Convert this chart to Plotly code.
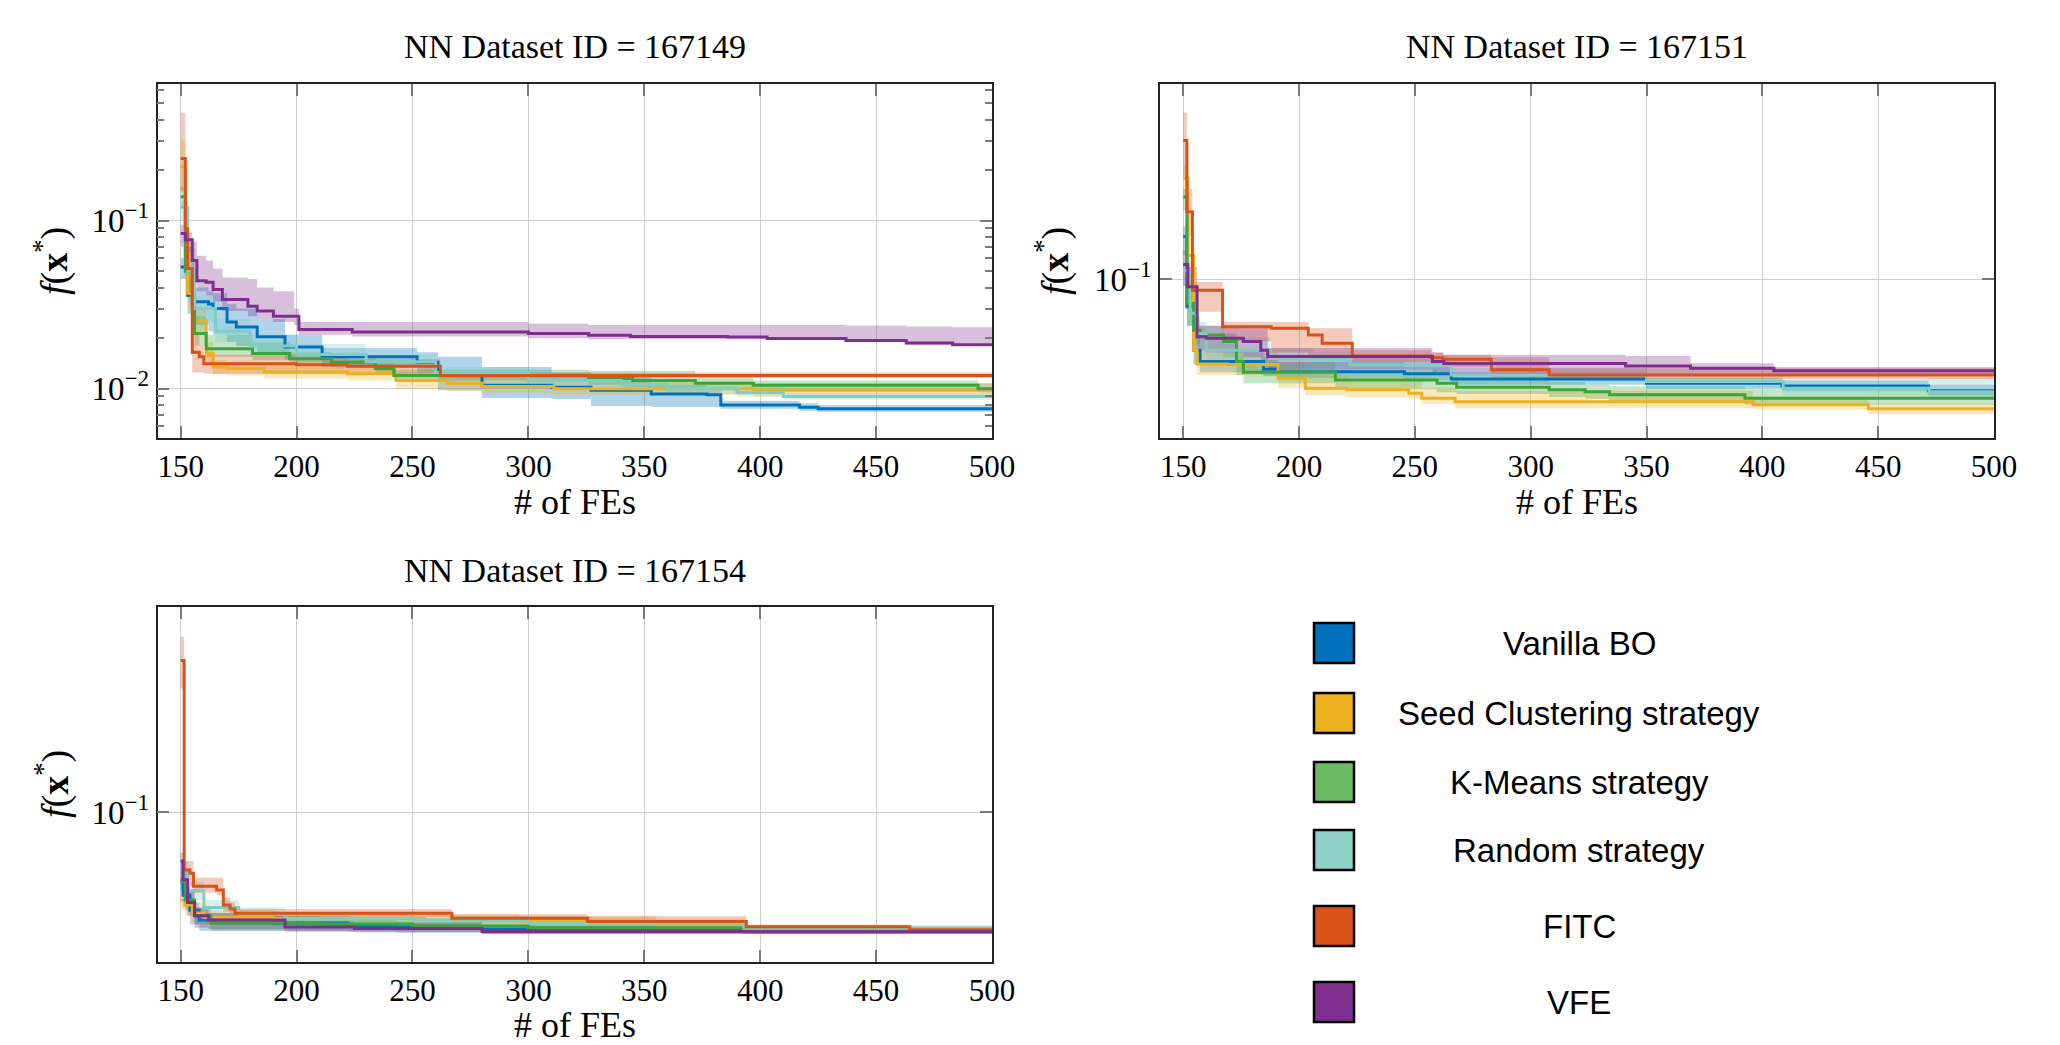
import plotly.graph_objects as go

# ---------------- categories / styles ----------------
methods = ["Vanilla BO", "Seed Clustering strategy", "K-Means strategy",
           "Random strategy", "FITC", "VFE"]
line_colors = ["#0072BD", "#EDB120", "#3BA53B", "#7FCDC4", "#D95319", "#7E2F8E"]
legend_colors = ["#0072BD", "#EDB120", "#6ABA62", "#8ED1C6", "#D95319", "#7E2F8E"]
titles = ["NN Dataset ID = 167149", "NN Dataset ID = 167151", "NN Dataset ID = 167154"]
x_ticks = [150, 200, 250, 300, 350, 400, 450, 500]

# ---------------- dataset 167149 ----------------
a_van_x = [150, 153, 155, 162, 164, 170, 174, 183, 195, 211, 252, 261, 280, 310, 327, 353, 377, 383, 417, 425, 500]
a_van_m = [0.053, 0.036, 0.033, 0.032, 0.030, 0.025, 0.0233, 0.0204, 0.0177, 0.0155, 0.0144, 0.0123, 0.0105, 0.0102, 0.0098, 0.0093, 0.0092, 0.0080, 0.00775, 0.0076, 0.0076]
a_van_h = [0.060, 0.045, 0.040, 0.038, 0.037, 0.032, 0.030, 0.026, 0.021, 0.0175, 0.0165, 0.0155, 0.0135, 0.0125, 0.0118, 0.0105, 0.0102, 0.0085, 0.0082, 0.0080, 0.0080]
a_van_l = [0.045, 0.028, 0.024, 0.022, 0.021, 0.019, 0.018, 0.016, 0.015, 0.0135, 0.0125, 0.0098, 0.0088, 0.0087, 0.0079, 0.0078, 0.0078, 0.0076, 0.0074, 0.0073, 0.0073]

a_sed_x = [150, 152, 153, 156, 161, 164, 170, 186, 222, 243, 265, 280, 311, 397, 500]
a_sed_m = [0.21, 0.06, 0.037, 0.0255, 0.0162, 0.0135, 0.0132, 0.0126, 0.0123, 0.0112, 0.0108, 0.0103, 0.0100, 0.0098, 0.0098]
a_sed_h = [0.30, 0.08, 0.05, 0.030, 0.019, 0.0148, 0.0145, 0.0138, 0.0134, 0.0125, 0.0120, 0.0115, 0.0110, 0.0108, 0.0108]
a_sed_l = [0.15, 0.045, 0.03, 0.021, 0.014, 0.0122, 0.0120, 0.0115, 0.0112, 0.0100, 0.0097, 0.0094, 0.0092, 0.0090, 0.0090]

a_km_x = [150, 152, 156, 161, 181, 197, 215, 234, 242, 326, 345, 372, 397, 494, 500]
a_km_m = [0.139, 0.05, 0.0213, 0.0173, 0.0162, 0.0151, 0.0144, 0.0132, 0.0120, 0.0115, 0.0112, 0.0108, 0.0105, 0.0100, 0.0100]
a_km_h = [0.16, 0.07, 0.027, 0.021, 0.019, 0.0165, 0.0158, 0.0142, 0.0130, 0.0128, 0.0128, 0.0118, 0.0112, 0.0108, 0.0108]
a_km_l = [0.12, 0.035, 0.018, 0.0155, 0.0148, 0.0140, 0.0134, 0.0122, 0.0112, 0.0106, 0.0102, 0.0100, 0.0097, 0.0095, 0.0095]

a_rnd_x = [150, 153, 156, 165, 180, 200, 230, 260, 300, 340, 360, 390, 410, 500]
a_rnd_m = [0.12, 0.05, 0.030, 0.022, 0.018, 0.016, 0.0145, 0.0125, 0.0112, 0.0106, 0.0100, 0.0095, 0.0090, 0.0089]
a_rnd_h = [0.13, 0.06, 0.036, 0.026, 0.021, 0.0185, 0.0160, 0.0135, 0.0120, 0.0114, 0.0108, 0.0102, 0.0095, 0.0093]
a_rnd_l = [0.10, 0.04, 0.025, 0.019, 0.016, 0.0145, 0.0132, 0.0115, 0.0104, 0.0098, 0.0093, 0.0090, 0.0086, 0.0085]

a_fitc_x = [150, 152, 153, 155, 158, 160, 200, 222, 262, 500]
a_fitc_m = [0.235, 0.09, 0.052, 0.0165, 0.0155, 0.0141, 0.0139, 0.0136, 0.0120, 0.0119]
a_fitc_h = [0.44, 0.13, 0.07, 0.021, 0.018, 0.016, 0.0155, 0.015, 0.0125, 0.0122]
a_fitc_l = [0.15, 0.06, 0.035, 0.0125, 0.0125, 0.0123, 0.0123, 0.0122, 0.0116, 0.0116]

a_vfe_x = [150, 152, 155, 157, 161, 164, 168, 179, 183, 190, 199, 201, 224, 300, 326, 344, 386, 403, 437, 463, 483, 500]
a_vfe_m = [0.084, 0.077, 0.058, 0.044, 0.043, 0.039, 0.034, 0.031, 0.029, 0.027, 0.027, 0.0225, 0.0218, 0.0213, 0.0208, 0.0205, 0.0203, 0.0199, 0.0194, 0.0187, 0.0183, 0.0183]
a_vfe_h = [0.095, 0.085, 0.075, 0.062, 0.058, 0.052, 0.046, 0.045, 0.040, 0.038, 0.030, 0.025, 0.025, 0.0245, 0.024, 0.024, 0.024, 0.024, 0.0238, 0.0235, 0.0232, 0.0232]
a_vfe_l = [0.070, 0.065, 0.050, 0.038, 0.036, 0.033, 0.029, 0.027, 0.026, 0.025, 0.024, 0.021, 0.0205, 0.020, 0.0197, 0.0197, 0.0197, 0.0195, 0.019, 0.0183, 0.018, 0.018]

# ---------------- dataset 167151 ----------------
b_van_x = [150, 151.6, 154.5, 157.3, 184.7, 191, 245.5, 265.7, 350, 408.5, 471.7, 500]
b_van_m = [0.139, 0.081, 0.058, 0.0532, 0.0501, 0.0492, 0.0484, 0.0465, 0.045, 0.0441, 0.0425, 0.0425]
b_van_h = [0.15, 0.09, 0.068, 0.058, 0.055, 0.053, 0.051, 0.049, 0.047, 0.046, 0.0445, 0.0445]
b_van_l = [0.12, 0.07, 0.052, 0.049, 0.0475, 0.047, 0.046, 0.0445, 0.0432, 0.0425, 0.041, 0.041]

b_sed_x = [150, 152, 154.5, 156, 169, 191, 202.7, 220.7, 247.4, 253, 267.4, 396, 445.8, 500]
b_sed_m = [0.217, 0.12, 0.058, 0.0522, 0.052, 0.0468, 0.0433, 0.0428, 0.0417, 0.0401, 0.0391, 0.0382, 0.037, 0.037]
b_sed_h = [0.24, 0.14, 0.066, 0.058, 0.057, 0.052, 0.048, 0.047, 0.046, 0.0435, 0.0425, 0.040, 0.0385, 0.0385]
b_sed_l = [0.19, 0.10, 0.052, 0.048, 0.048, 0.0435, 0.041, 0.0405, 0.040, 0.0385, 0.0372, 0.0368, 0.0355, 0.0355]

b_km_x = [150, 151.6, 154.5, 157.3, 167.4, 173, 176, 215.7, 259.6, 268, 308, 323.5, 334, 392.5, 500]
b_km_m = [0.188, 0.083, 0.0678, 0.0652, 0.062, 0.0532, 0.049, 0.0462, 0.045, 0.0437, 0.0428, 0.0422, 0.0412, 0.0401, 0.0401]
b_km_h = [0.20, 0.095, 0.075, 0.070, 0.066, 0.058, 0.053, 0.050, 0.048, 0.047, 0.0455, 0.0445, 0.044, 0.043, 0.043]
b_km_l = [0.17, 0.07, 0.060, 0.058, 0.055, 0.048, 0.045, 0.043, 0.042, 0.0415, 0.0405, 0.040, 0.039, 0.0382, 0.0382]

b_rnd_x = [150, 153, 156, 160, 187.6, 206, 222, 265.7, 350, 409, 472, 500]
b_rnd_m = [0.107, 0.077, 0.066, 0.058, 0.0545, 0.054, 0.0518, 0.048, 0.0456, 0.0433, 0.0422, 0.0422]
b_rnd_h = [0.115, 0.085, 0.072, 0.064, 0.059, 0.057, 0.055, 0.0505, 0.048, 0.0465, 0.0468, 0.0468]
b_rnd_l = [0.095, 0.07, 0.058, 0.052, 0.050, 0.0495, 0.048, 0.0455, 0.043, 0.041, 0.040, 0.040]

b_fitc_x = [150, 151.6, 154, 167, 188, 204, 210, 223, 257, 262, 283, 308, 500]
b_fitc_m = [0.29, 0.168, 0.092, 0.0695, 0.0687, 0.0652, 0.0612, 0.0555, 0.0549, 0.0541, 0.0499, 0.048, 0.048]
b_fitc_h = [0.36, 0.20, 0.098, 0.072, 0.072, 0.0687, 0.0687, 0.058, 0.057, 0.056, 0.055, 0.0505, 0.0505]
b_fitc_l = [0.22, 0.14, 0.078, 0.062, 0.057, 0.056, 0.0555, 0.053, 0.052, 0.051, 0.047, 0.0465, 0.0465]

b_vfe_x = [150, 152, 156, 160, 176, 183.5, 186.5, 257.6, 262.5, 341, 369, 405, 500]
b_vfe_m = [0.112, 0.0945, 0.0644, 0.0636, 0.062, 0.058, 0.0553, 0.0532, 0.0524, 0.0514, 0.0505, 0.0496, 0.0496]
b_vfe_h = [0.125, 0.11, 0.070, 0.070, 0.069, 0.069, 0.059, 0.057, 0.056, 0.0555, 0.0525, 0.051, 0.051]
b_vfe_l = [0.095, 0.085, 0.058, 0.057, 0.055, 0.052, 0.050, 0.049, 0.048, 0.048, 0.048, 0.0478, 0.0478]

# ---------------- dataset 167154 ----------------
c_van_x = [150, 151, 154, 158, 190, 222, 243, 280, 393, 500]
c_van_m = [0.055, 0.048, 0.042, 0.0385, 0.0375, 0.0365, 0.0362, 0.0355, 0.0350, 0.0350]
c_van_h = [0.060, 0.052, 0.045, 0.041, 0.040, 0.0385, 0.038, 0.037, 0.036, 0.036]
c_van_l = [0.050, 0.043, 0.037, 0.035, 0.035, 0.0348, 0.0345, 0.034, 0.034, 0.034]

c_sed_x = [150, 152, 155, 160, 190, 255, 296, 355, 393, 500]
c_sed_m = [0.046, 0.044, 0.041, 0.0395, 0.039, 0.0385, 0.0382, 0.0365, 0.0348, 0.0348]
c_sed_h = [0.050, 0.048, 0.045, 0.042, 0.041, 0.0405, 0.040, 0.038, 0.036, 0.036]
c_sed_l = [0.042, 0.040, 0.038, 0.037, 0.0368, 0.0365, 0.036, 0.0352, 0.034, 0.034]

c_km_x = [150, 152, 156, 163, 210, 250, 300, 393, 500]
c_km_m = [0.054, 0.046, 0.040, 0.0375, 0.0372, 0.0365, 0.036, 0.0355, 0.0355]
c_km_h = [0.058, 0.050, 0.043, 0.040, 0.039, 0.038, 0.0375, 0.0365, 0.0365]
c_km_l = [0.050, 0.042, 0.037, 0.035, 0.035, 0.0348, 0.0345, 0.0345, 0.0345]

c_rnd_x = [150, 153, 160, 175, 195, 250, 300, 393, 500]
c_rnd_m = [0.060, 0.050, 0.043, 0.0405, 0.039, 0.0385, 0.0375, 0.0358, 0.0355]
c_rnd_h = [0.065, 0.054, 0.046, 0.043, 0.041, 0.040, 0.039, 0.0368, 0.0365]
c_rnd_l = [0.055, 0.046, 0.040, 0.038, 0.037, 0.0365, 0.036, 0.0348, 0.0345]

c_fitc_x = [150, 151.5, 154, 155.5, 165.5, 168.4, 171.3, 173.4, 267, 325.5, 394, 464.5, 500]
c_fitc_m = [0.385, 0.060, 0.0583, 0.052, 0.0503, 0.044, 0.0425, 0.0409, 0.0391, 0.038, 0.0363, 0.0353, 0.0353]
c_fitc_h = [0.474, 0.065, 0.065, 0.056, 0.056, 0.047, 0.045, 0.0425, 0.0405, 0.0398, 0.037, 0.036, 0.036]
c_fitc_l = [0.30, 0.055, 0.052, 0.049, 0.048, 0.0415, 0.041, 0.0395, 0.0378, 0.037, 0.0355, 0.0345, 0.0345]

c_vfe_x = [150, 151, 153, 156, 162, 195, 225, 280, 393, 500]
c_vfe_m = [0.065, 0.055, 0.045, 0.040, 0.0385, 0.0362, 0.0357, 0.0348, 0.0347, 0.0347]
c_vfe_h = [0.070, 0.060, 0.050, 0.043, 0.041, 0.038, 0.0375, 0.0365, 0.0355, 0.0355]
c_vfe_l = [0.058, 0.050, 0.040, 0.036, 0.0355, 0.0347, 0.0345, 0.034, 0.034, 0.034]

panels = [
    [(a_van_x, a_van_m, a_van_l, a_van_h), (a_sed_x, a_sed_m, a_sed_l, a_sed_h),
     (a_km_x, a_km_m, a_km_l, a_km_h), (a_rnd_x, a_rnd_m, a_rnd_l, a_rnd_h),
     (a_fitc_x, a_fitc_m, a_fitc_l, a_fitc_h), (a_vfe_x, a_vfe_m, a_vfe_l, a_vfe_h)],
    [(b_van_x, b_van_m, b_van_l, b_van_h), (b_sed_x, b_sed_m, b_sed_l, b_sed_h),
     (b_km_x, b_km_m, b_km_l, b_km_h), (b_rnd_x, b_rnd_m, b_rnd_l, b_rnd_h),
     (b_fitc_x, b_fitc_m, b_fitc_l, b_fitc_h), (b_vfe_x, b_vfe_m, b_vfe_l, b_vfe_h)],
    [(c_van_x, c_van_m, c_van_l, c_van_h), (c_sed_x, c_sed_m, c_sed_l, c_sed_h),
     (c_km_x, c_km_m, c_km_l, c_km_h), (c_rnd_x, c_rnd_m, c_rnd_l, c_rnd_h),
     (c_fitc_x, c_fitc_m, c_fitc_l, c_fitc_h), (c_vfe_x, c_vfe_m, c_vfe_l, c_vfe_h)],
]


def rgba(hexc, a):
    h = hexc.lstrip("#")
    return "rgba(%d,%d,%d,%.2f)" % (int(h[0:2], 16), int(h[2:4], 16), int(h[4:6], 16), a)


fig = go.Figure()
axis_ids = [("x", "y"), ("x2", "y2"), ("x3", "y3")]
for p, series in enumerate(panels):
    xa, ya = axis_ids[p]
    for k, (xs, m, lo, hi) in enumerate(series):
        c = line_colors[k]
        fig.add_trace(go.Scatter(x=xs, y=lo, mode="lines", line=dict(width=0, shape="hv"),
                                 xaxis=xa, yaxis=ya, showlegend=False, hoverinfo="skip"))
        fig.add_trace(go.Scatter(x=xs, y=hi, mode="lines", line=dict(width=0, shape="hv"),
                                 fill="tonexty", fillcolor=rgba(c, 0.30),
                                 xaxis=xa, yaxis=ya, showlegend=False, hoverinfo="skip"))
    for k, (xs, m, lo, hi) in enumerate(series):
        fig.add_trace(go.Scatter(x=xs, y=m, mode="lines", name=methods[k],
                                 line=dict(color=line_colors[k], width=3, shape="hv"),
                                 xaxis=xa, yaxis=ya, showlegend=False))

W, H = 2060, 1045
SERIF = "Liberation Serif"
tickfont = dict(family=SERIF, size=31, color="black")


def px_x(a, b):
    return [a / W, b / W]


def px_y(top, bottom):
    return [1 - bottom / H, 1 - top / H]


def xaxis(domain, anchor):
    return dict(domain=domain, anchor=anchor, range=[140, 500], tickvals=x_ticks,
                ticks="inside", ticklen=12, tickwidth=2, tickcolor="#7a7a7a",
                showgrid=True, gridcolor="#d0d0d0", gridwidth=1.2,
                showline=True, linecolor="#222222", linewidth=1.6, mirror="ticks",
                zeroline=False, tickfont=tickfont, automargin=False)


def yaxis(domain, anchor, rng, tv, tt, minor_vals=None):
    d = dict(domain=domain, anchor=anchor, type="log", range=rng, tickvals=tv, ticktext=tt,
             ticks="inside", ticklen=12, tickwidth=2, tickcolor="#7a7a7a",
             showgrid=True, gridcolor="#d0d0d0", gridwidth=1.2,
             showline=True, linecolor="#222222", linewidth=1.6, mirror="ticks",
             zeroline=False, tickfont=dict(family=SERIF, size=33, color="black"),
             automargin=False)
    if minor_vals:
        d["minor"] = dict(tickmode="array", tickvals=minor_vals, ticks="inside", ticklen=7,
                          tickwidth=2, tickcolor="#7a7a7a", showgrid=False)
    return d


minor1 = [0.006, 0.007, 0.008, 0.009, 0.02, 0.03, 0.04, 0.05, 0.06, 0.07, 0.08, 0.09,
          0.2, 0.3, 0.4, 0.5, 0.6]

fig.update_layout(
    width=W, height=H, margin=dict(l=0, r=0, t=0, b=0, autoexpand=False),
    paper_bgcolor="white", plot_bgcolor="white", showlegend=False,
    xaxis=xaxis(px_x(157.5, 992), "y"),
    yaxis=yaxis(px_y(84, 438), "x", [-2.293, -0.186], [0.01, 0.1],
                ["10<sup>−2</sup>", "10<sup>−1</sup>"], minor1),
    xaxis2=xaxis(px_x(1160, 1994), "y2"),
    yaxis2=yaxis(px_y(84, 438), "x2", [-1.529, -0.349], [0.1], ["10<sup>−1</sup>"]),
    xaxis3=xaxis(px_x(157.5, 992), "y3"),
    yaxis3=yaxis(px_y(607, 962), "x3", [-1.576, -0.209], [0.1], ["10<sup>−1</sup>"]),
)

ann = []
# subplot titles
for (cx, cy), t in zip([(575, 47), (1577, 47), (575, 570)], titles):
    ann.append(dict(x=cx / W, y=1 - cy / H, xref="paper", yref="paper", text=t, showarrow=False,
                    font=dict(family=SERIF, size=34, color="black"), xanchor="center", yanchor="middle"))
# x axis titles
for cx, cy in [(575, 502), (1577, 502), (575, 1025)]:
    ann.append(dict(x=cx / W, y=1 - cy / H, xref="paper", yref="paper", text="# of FEs", showarrow=False,
                    font=dict(family=SERIF, size=36, color="black"), xanchor="center", yanchor="middle"))
# y axis titles
for cx, cy in [(52, 261), (1053, 261), (52, 784)]:
    ann.append(dict(x=cx / W, y=1 - cy / H, xref="paper", yref="paper",
                    text="<i>f</i>(<b>x</b><sup>*</sup>)", showarrow=False, textangle=-90,
                    font=dict(family=SERIF, size=38, color="black"), xanchor="center", yanchor="middle"))

# legend (custom)
row_y = [643, 713, 782, 850, 926, 1002]
shapes = []
for k, ry in enumerate(row_y):
    shapes.append(dict(type="rect", xref="paper", yref="paper",
                       x0=1314 / W, x1=1354 / W, y0=1 - (ry + 20) / H, y1=1 - (ry - 20) / H,
                       fillcolor=legend_colors[k], line=dict(color="black", width=2.5)))
    ann.append(dict(x=1579 / W, y=1 - ry / H, xref="paper", yref="paper", text=methods[k],
                    showarrow=False, font=dict(family="Liberation Sans", size=33, color="black"),
                    xanchor="center", yanchor="middle"))

fig.update_layout(annotations=ann, shapes=shapes)
fig.write_html("out.html")
